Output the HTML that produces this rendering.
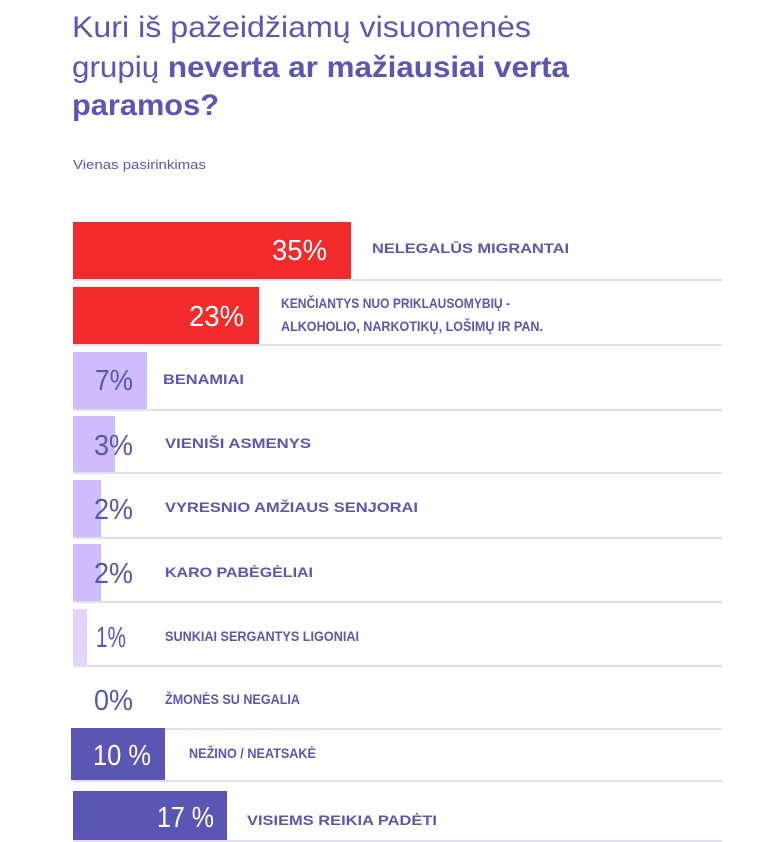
<!DOCTYPE html>
<html><head><meta charset="utf-8"><style>
html,body{margin:0;padding:0;background:#fff;}
svg{display:block;font-family:"Liberation Sans",sans-serif;}
.l{font-weight:bold;font-size:14px;fill:#5a56b3;}
.p{font-size:29px;}
</style></head><body>
<svg width="768" height="842" viewBox="0 0 768 842">
<g fill="#5a56b3" font-size="30">
<text x="72" y="37" textLength="459" lengthAdjust="spacingAndGlyphs">Kuri iš pažeidžiamų visuomenės</text>
<text x="72" y="77" textLength="497" lengthAdjust="spacingAndGlyphs">grupių <tspan font-weight="bold">neverta ar mažiausiai verta</tspan></text>
<text x="72" y="115" font-weight="bold" textLength="147" lengthAdjust="spacingAndGlyphs">paramos?</text>
<text x="73" y="169" font-size="13" textLength="133" lengthAdjust="spacingAndGlyphs">Vienas pasirinkimas</text>
</g>
<g stroke="#ddd3ec" stroke-width="1.5">
<line x1="73" y1="280" x2="722" y2="280"/>
<line x1="73" y1="345" x2="722" y2="345"/>
<line x1="73" y1="410" x2="722" y2="410"/>
<line x1="73" y1="473" x2="722" y2="473"/>
<line x1="73" y1="538" x2="722" y2="538"/>
<line x1="73" y1="602" x2="722" y2="602"/>
<line x1="73" y1="666" x2="722" y2="666"/>
<line x1="73" y1="729" x2="722" y2="729"/>
<line x1="73" y1="781" x2="722" y2="781"/>
<line x1="73" y1="841" x2="722" y2="841"/>
</g>
<rect x="73" y="222" width="278" height="57" fill="#f12b2b"/>
<rect x="73" y="287" width="186" height="57" fill="#f12b2b"/>
<rect x="73" y="352" width="74" height="57" fill="#cfbcfc"/>
<rect x="73" y="416" width="42" height="56" fill="#cfbcfc"/>
<rect x="73" y="480" width="28" height="57" fill="#cfbcfc"/>
<rect x="73" y="544" width="28" height="57" fill="#cfbcfc"/>
<rect x="73" y="609" width="14" height="56" fill="#e3d5fd"/>
<rect x="71" y="728" width="94" height="52" fill="#5a56b3"/>
<rect x="73" y="791" width="154" height="49" fill="#5a56b3"/>
<g class="p">
<text x="272" y="260" fill="#fff" textLength="55" lengthAdjust="spacingAndGlyphs">35%</text>
<text x="189" y="326" fill="#fff" textLength="55" lengthAdjust="spacingAndGlyphs">23%</text>
<text x="95" y="390" fill="#5a56b3" textLength="38" lengthAdjust="spacingAndGlyphs">7%</text>
<text x="94" y="455" fill="#5a56b3" textLength="39" lengthAdjust="spacingAndGlyphs">3%</text>
<text x="94" y="519" fill="#5a56b3" textLength="39" lengthAdjust="spacingAndGlyphs">2%</text>
<text x="94" y="583" fill="#5a56b3" textLength="39" lengthAdjust="spacingAndGlyphs">2%</text>
<text x="96" y="647" fill="#5a56b3" textLength="30" lengthAdjust="spacingAndGlyphs">1%</text>
<text x="94" y="710" fill="#5a56b3" textLength="39" lengthAdjust="spacingAndGlyphs">0%</text>
<text x="93" y="765" fill="#fff" textLength="58" lengthAdjust="spacingAndGlyphs">10 %</text>
<text x="157" y="827" fill="#fff" textLength="57" lengthAdjust="spacingAndGlyphs">17 %</text>
</g>
<g class="l">
<text x="372" y="253" textLength="197" lengthAdjust="spacingAndGlyphs">NELEGALŪS MIGRANTAI</text>
<text x="281" y="308" textLength="229" lengthAdjust="spacingAndGlyphs">KENČIANTYS NUO PRIKLAUSOMYBIŲ -</text>
<text x="281" y="331" textLength="262" lengthAdjust="spacingAndGlyphs">ALKOHOLIO, NARKOTIKŲ, LOŠIMŲ IR PAN.</text>
<text x="163" y="384" textLength="81" lengthAdjust="spacingAndGlyphs">BENAMIAI</text>
<text x="165" y="448" textLength="146" lengthAdjust="spacingAndGlyphs">VIENIŠI ASMENYS</text>
<text x="165" y="512" textLength="253" lengthAdjust="spacingAndGlyphs">VYRESNIO AMŽIAUS SENJORAI</text>
<text x="165" y="577" textLength="148" lengthAdjust="spacingAndGlyphs">KARO PABĖGĖLIAI</text>
<text x="165" y="641" textLength="194" lengthAdjust="spacingAndGlyphs">SUNKIAI SERGANTYS LIGONIAI</text>
<text x="165" y="704" textLength="135" lengthAdjust="spacingAndGlyphs">ŽMONĖS SU NEGALIA</text>
<text x="189" y="758" textLength="127" lengthAdjust="spacingAndGlyphs">NEŽINO / NEATSAKĖ</text>
<text x="247" y="825" textLength="190" lengthAdjust="spacingAndGlyphs">VISIEMS REIKIA PADĖTI</text>
</g>
</svg>
</body></html>
